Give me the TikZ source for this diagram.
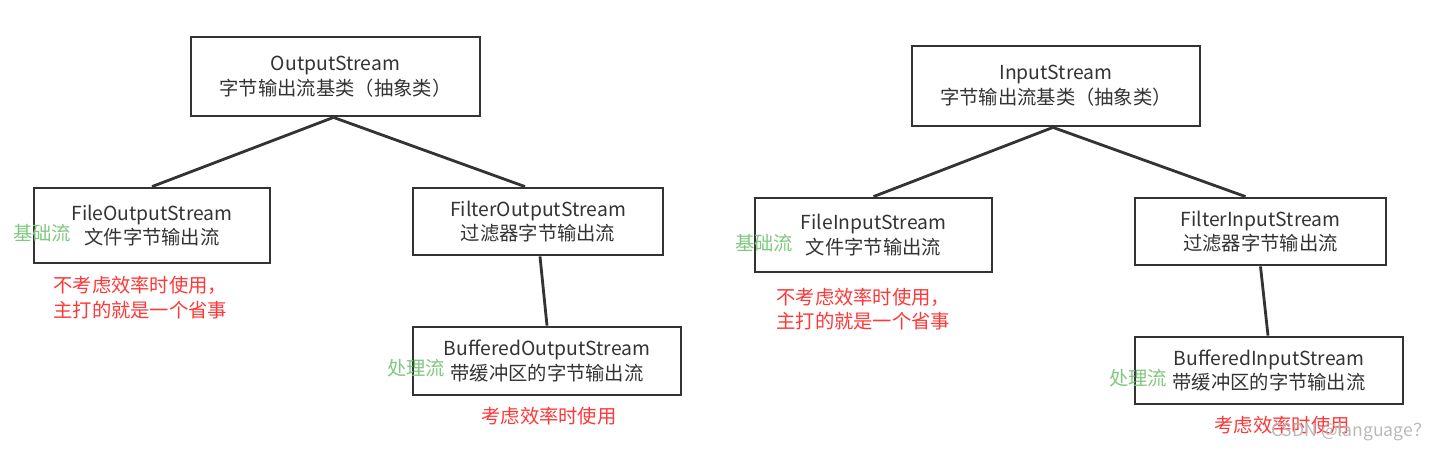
\documentclass[tikz,border=0pt]{standalone}
\usepackage{fontspec}
\setmainfont{Noto Sans CJK SC}
\usepackage{tikz}
\usetikzlibrary{positioning}
\definecolor{boxgray}{RGB}{51,51,51}
\definecolor{notegreen}{RGB}{128,200,128}
\definecolor{notered}{RGB}{255,55,55}
\definecolor{markgray}{RGB}{185,185,185}

\tikzset{
	streambox/.style={draw=boxgray, line width=1.6pt, text=boxgray, align=center, inner sep=0pt,
		font=\fontsize{11}{14}\selectfont},
	link/.style={draw=boxgray, line width=1.6pt},
	kindnote/.style={text=notegreen, inner sep=0pt, font=\fontsize{11}{14}\selectfont},
	usenote/.style={text=notered, inner sep=0pt, align=left, font=\fontsize{11}{14}\selectfont},
}

\begin{document}
\begin{tikzpicture}[x=0.02cm, y=-0.02cm]

\def \pw{0.02cm}

\useasboundingbox (0,0) rectangle (1437,451);

% output side
\node[streambox, minimum width=289*\pw, minimum height=79*\pw] (outS) at (335.5, 76.5) {OutputStream\\字节输出流基类（抽象类）};
\node[streambox, minimum width=236*\pw, minimum height=75*\pw] (fileOut) at (152, 225.5) {FileOutputStream\\文件字节输出流};
\node[streambox, minimum width=250*\pw, minimum height=67*\pw] (filterOut) at (538, 221.5) {FilterOutputStream\\过滤器字节输出流};
\node[streambox, minimum width=268*\pw, minimum height=68*\pw] (bufOut) at (547, 361) {BufferedOutputStream\\带缓冲区的字节输出流};

\draw[link] ([xshift=-2*\pw]outS.south) -- (fileOut.north);
\draw[link] ([xshift=-2*\pw]outS.south) -- ([xshift=-13*\pw]filterOut.north);
\draw[link] ([xshift=2*\pw]filterOut.south) -- (bufOut.north);

\node[kindnote] (baseOut) at (42, 233) {基础流};
\node[kindnote] (procOut) at (416, 368) {处理流};
\node[usenote, anchor=west] (noteFileOut) at (53, 297.5) {不考虑效率时使用，\\主打的就是一个省事};
\node[usenote] (noteBufOut) at (549, 416) {考虑效率时使用};

% input side
\node[streambox, minimum width=288*\pw, minimum height=80*\pw] (inS) at (1056, 86) {InputStream\\字节输出流基类（抽象类）};
\node[streambox, minimum width=237*\pw, minimum height=74*\pw] (fileIn) at (873.5, 235) {FileInputStream\\文件字节输出流};
\node[streambox, minimum width=251*\pw, minimum height=67*\pw] (filterIn) at (1260.5, 231.5) {FilterInputStream\\过滤器字节输出流};
\node[streambox, minimum width=268*\pw, minimum height=67*\pw] (bufIn) at (1269, 370.5) {BufferedInputStream\\带缓冲区的字节输出流};

\draw[link] ([xshift=-3*\pw]inS.south) -- (fileIn.north);
\draw[link] ([xshift=-3*\pw]inS.south) -- ([xshift=-15*\pw]filterIn.north);
\draw[link] (filterIn.south) -- ([xshift=-1*\pw]bufIn.north);

\node[kindnote] (baseIn) at (764, 243) {基础流};
\node[kindnote] (procIn) at (1138, 378) {处理流};
\node[usenote, anchor=west] (noteFileIn) at (776, 309) {不考虑效率时使用，\\主打的就是一个省事};
\node[usenote] (noteBufIn) at (1282, 425) {考虑效率时使用};

\node[text=markgray, inner sep=0pt, font=\fontsize{10}{12}\selectfont] (mark) at (1351, 432) {CSDN @language？};

\end{tikzpicture}
\end{document}
